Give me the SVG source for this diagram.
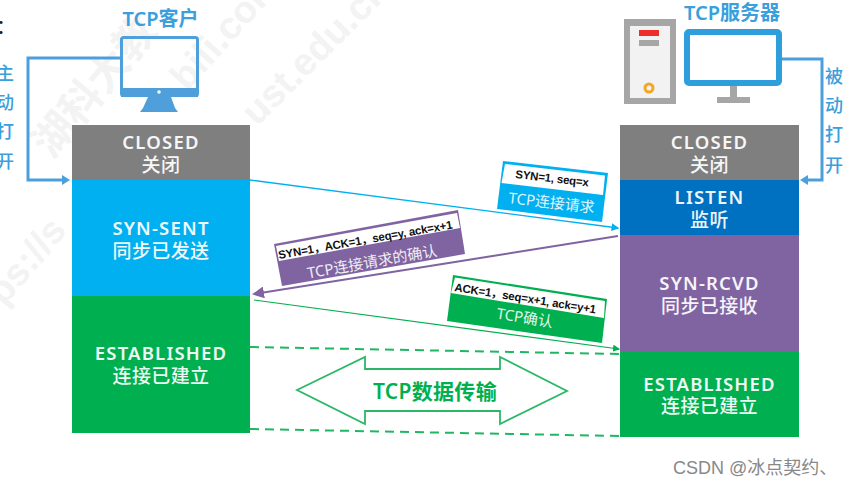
<svg xmlns="http://www.w3.org/2000/svg" width="852" height="486" viewBox="0 0 852 486">
<style>
text{font-family:"Noto Sans","Noto Sans CJK SC",sans-serif;text-anchor:middle}
.s{fill:#fff;font-size:18.500px;font-weight:600;letter-spacing:1.200px;opacity:.93}
.c{fill:#fff;font-size:19px;font-weight:500;letter-spacing:.4px;opacity:.93}
.t{fill:#3a9fdc;font-size:20px;font-weight:600}
.v{fill:#3a9fdc;font-size:18px;font-weight:500}
.wm{fill:#f3f3f3;font-size:38px;font-weight:700;font-family:"Liberation Sans","Noto Sans CJK SC",sans-serif;text-anchor:start}
.k{fill:#111;font-size:11.500px;font-family:"Liberation Sans","Noto Sans CJK SC",sans-serif;font-weight:700;text-anchor:start;letter-spacing:-.2px}
.l{fill:#fff;font-size:15px;opacity:.88}
.arrow{fill:none;stroke:#4a9fdc;stroke-width:3}
</style>
<defs>
<marker id="hb" markerWidth="6" markerHeight="6" refX="5" refY="3" orient="auto"><path d="M0 0L6 3L0 6z" fill="#00b0f0"/></marker>
<marker id="hp" markerWidth="6" markerHeight="6" refX="5" refY="3" orient="auto"><path d="M0 0L6 3L0 6z" fill="#8064a2"/></marker>
<marker id="hg" markerWidth="6" markerHeight="6" refX="5" refY="3" orient="auto"><path d="M0 0L6 3L0 6z" fill="#00b050"/></marker>
</defs>
<rect width="852" height="486" fill="#fff"/>
<g id="watermark">
<text class="wm" transform="translate(52,160) rotate(-50) scale(1.100)">湖科大教</text>
<text class="wm" transform="translate(187,92) rotate(-48)">bili.com</text>
<text class="wm" transform="translate(257,127) rotate(-45)">ust.edu.cn</text>
<text class="wm" transform="translate(4,307) rotate(-50)">ps://s</text>
</g>
<text x="-4" y="34" fill="#222" font-size="20" style="text-anchor:start">：</text>
<g id="client-icon">
<text class="t" x="160.500" y="26">TCP客户</text>
<rect x="121.500" y="37.500" width="76" height="58" rx="2" fill="none" stroke="#4fa0da" stroke-width="3"/>
<rect x="121" y="88" width="77" height="9" fill="#4fa0da"/>
<circle cx="159" cy="92" r="1.800" fill="#fff"/>
<path d="M148 97H171L175 108L178 112H140L143 108z" fill="#4fa0da"/>
</g>
<g id="server-icon">
<text class="t" x="732" y="20">TCP服务器</text>
<rect x="624" y="19" width="52" height="85" fill="#a6a6a6"/>
<rect x="630" y="26" width="40" height="72" fill="#f2f2f2"/>
<rect x="639" y="30" width="20" height="6" fill="#ee2d2d"/>
<rect x="639" y="40" width="20" height="6" fill="#a6a6a6"/>
<circle cx="649" cy="88" r="4" fill="none" stroke="#f5a623" stroke-width="3"/>
<rect x="730" y="85" width="7" height="13" fill="#a6a6a6"/>
<rect x="717" y="97" width="33" height="6" fill="#a6a6a6"/>
<rect x="687" y="32" width="92" height="51" rx="2" fill="#fff" stroke="#2e9fdc" stroke-width="6"/>
</g>
<g id="connectors">
<path class="arrow" d="M120 58H28V180H64"/>
<path d="M62 175L70 180L62 185z" fill="#4a9fdc"/>
<path class="arrow" d="M782 59H822V180H806"/>
<path d="M808 175L800 180L808 185z" fill="#4a9fdc"/>
<path d="M250 180L618 228" stroke="#00b0f0" stroke-width="1.300" fill="none" marker-end="url(#hb)"/>
<path d="M618 236L254 294" stroke="#8064a2" stroke-width="2" fill="none" marker-end="url(#hp)"/>
<path d="M254 300L619 349" stroke="#00b050" stroke-width="1.200" fill="none" marker-end="url(#hg)"/>
<path d="M250 347L620 354" stroke="#1fb862" stroke-width="2" stroke-dasharray="9 6" fill="none"/>
<path d="M250 429L620 436" stroke="#1fb862" stroke-width="2" stroke-dasharray="9 6" fill="none"/>
</g>
<g id="client-closed"><rect x="72" y="125" width="178" height="55" fill="#7f7f7f"/><text class="s" x="161" y="149">CLOSED</text><text class="c" x="161" y="172">关闭</text></g>
<g id="client-syn-sent"><rect x="72" y="180" width="178" height="116" fill="#00b0f0"/><text class="s" x="161" y="235">SYN-SENT</text><text class="c" x="161" y="258">同步已发送</text></g>
<g id="client-established"><rect x="72" y="296" width="178" height="137" fill="#00b050"/><text class="s" x="161" y="360">ESTABLISHED</text><text class="c" x="161" y="383">连接已建立</text></g>
<g id="server-closed"><rect x="620" y="125" width="179" height="55" fill="#7f7f7f"/><text class="s" x="709.500" y="149">CLOSED</text><text class="c" x="709.500" y="172">关闭</text></g>
<g id="server-listen"><rect x="620" y="180" width="179" height="55" fill="#0070c0"/><text class="s" x="709.500" y="204">LISTEN</text><text class="c" x="709.500" y="227">监听</text></g>
<g id="server-syn-rcvd"><rect x="620" y="235" width="179" height="117" fill="#8064a2"/><text class="s" x="709.500" y="290">SYN-RCVD</text><text class="c" x="709.500" y="313">同步已接收</text></g>
<g id="server-established"><rect x="620" y="352" width="179" height="85" fill="#00b050"/><text class="s" x="709.500" y="391">ESTABLISHED</text><text class="c" x="709.500" y="413">连接已建立</text></g>
<g id="label-active">
<text class="v" x="5" y="80">主</text><text class="v" x="5" y="109">动</text><text class="v" x="5" y="138">打</text><text class="v" x="5" y="168">开</text>
</g>
<g id="label-passive">
<text class="v" x="834" y="83">被</text><text class="v" x="834" y="112">动</text><text class="v" x="834" y="141">打</text><text class="v" x="834" y="172">开</text>
</g>
<g id="syn-label">
<path d="M503 161L608 173L602 222L497 209z" fill="#00b0f0"/>
<path d="M505 164L605 175.500L603 195L501.500 183z" fill="#fff"/>
<text class="k" transform="translate(515,178) rotate(6.500)">SYN=1, seq=x</text>
<text class="l" transform="translate(551,208) rotate(6.500)">TCP连接请求</text>
</g>
<g id="syn-ack-label">
<path d="M274 244L458 210L465 254L282 286z" fill="#8064a2"/>
<path d="M276 246L457 213L460 228L279 261z" fill="#fff"/>
<text class="k" transform="translate(279,259) rotate(-10)">SYN=1，ACK=1，seq=y, ack=x+1</text>
<text class="l" transform="translate(373,267) rotate(-10)">TCP连接请求的确认</text>
</g>
<g id="ack-label">
<path d="M453 275L607 299L602 343L447 321z" fill="#00b050"/>
<path d="M455 277.500L605 301L604 318L451 293z" fill="#fff"/>
<text class="k" transform="translate(454,291) rotate(9)">ACK=1，seq=x+1, ack=y+1</text>
<text class="l" transform="translate(524,323) rotate(9)">TCP确认</text>
</g>
<g id="data-transfer">
<path d="M297 390L365 357V369H500V357L567 391L500 424V411H365V424z" fill="#fff" stroke="#2bb866" stroke-width="1.800"/>
<text x="435" y="399" fill="#00b050" font-size="21" font-weight="600" letter-spacing=".3">TCP数据传输</text>
</g>
<text x="673" y="474" fill="#888" font-size="18" style="text-anchor:start;font-family:'Liberation Sans','Noto Sans CJK SC',sans-serif">CSDN @冰点契约、</text>
</svg>
